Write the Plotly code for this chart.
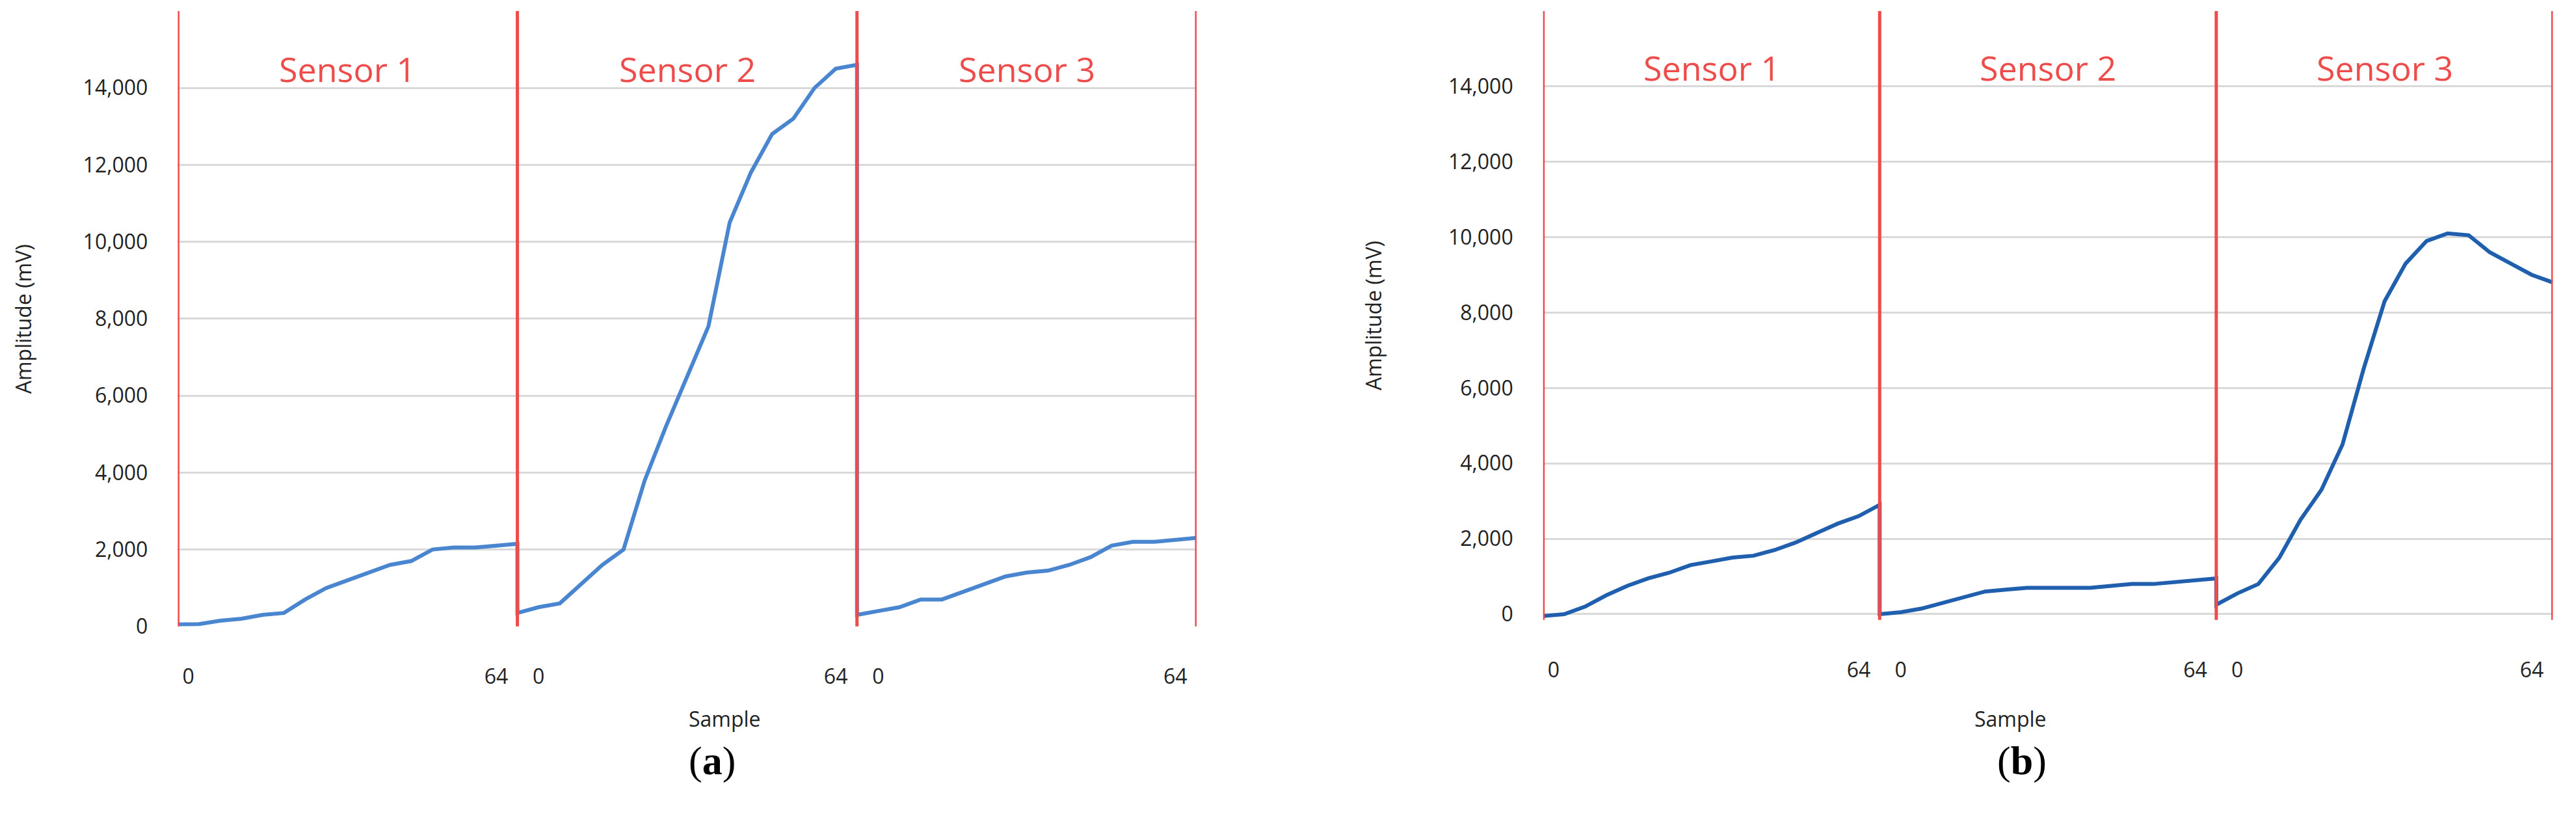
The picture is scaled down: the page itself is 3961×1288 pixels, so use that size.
import plotly.graph_objects as go

# samples read every 4 points (0..64) for each sensor
samples = [0, 4, 8, 12, 16, 20, 24, 28, 32, 36, 40, 44, 48, 52, 56, 60, 64]

a_sensor1 = [50, 60, 150, 200, 300, 350, 700, 1000, 1200, 1400, 1600, 1700, 2000, 2050, 2050, 2100, 2150]
a_sensor2 = [350, 500, 600, 1100, 1600, 2000, 3800, 5200, 6500, 7800, 10500, 11800, 12800, 13200, 14000, 14500, 14600]
a_sensor3 = [300, 400, 500, 700, 700, 900, 1100, 1300, 1400, 1450, 1600, 1800, 2100, 2200, 2200, 2250, 2300]

b_sensor1 = [-50, 0, 200, 500, 750, 950, 1100, 1300, 1400, 1500, 1550, 1700, 1900, 2150, 2400, 2600, 2900]
b_sensor2 = [0, 50, 150, 300, 450, 600, 650, 700, 700, 700, 700, 750, 800, 800, 850, 900, 950]
b_sensor3 = [250, 550, 800, 1500, 2500, 3300, 4500, 6500, 8300, 9300, 9900, 10100, 10050, 9600, 9300, 9000, 8800]

sensor_names = ["Sensor 1", "Sensor 2", "Sensor 3"]
y_ticks = [0, 2000, 4000, 6000, 8000, 10000, 12000, 14000, 16000]

FONT = "Open Sans"
RED = "#EE4B4B"

fig = go.Figure()


def add_panel(fig, series, color, xa, ya, xdom, ydom, ymin, label):
    xs, ys = [], []
    for k, s in enumerate(series):
        xs += [v + 64 * k for v in samples]
        ys += s
    fig.add_trace(go.Scatter(x=xs, y=ys, mode="lines", xaxis=xa, yaxis=ya,
                             line=dict(color=color, width=6), showlegend=False))
    xkey = "xaxis" if xa == "x" else "xaxis" + xa[1:]
    ykey = "yaxis" if ya == "y" else "yaxis" + ya[1:]
    fig.update_layout(**{
        xkey: dict(domain=xdom, range=[0, 192], anchor=ya, showgrid=False, zeroline=False,
                   tickvals=[2, 60, 68, 124, 132, 188],
                   ticktext=["0", "64", "0", "64", "0", "64"], ticks="",
                   ticklabelstandoff=55,
                   tickfont=dict(family=FONT, size=32, color="#222")),
        ykey: dict(domain=ydom, range=[ymin, 16000], anchor=xa, tickvals=y_ticks,
                   tickformat=",", showgrid=True, gridcolor="#D9D9D9", gridwidth=3,
                   zeroline=False, ticklabelstandoff=45,
                   tickfont=dict(family=FONT, size=32, color="#222")),
    })
    for b in [0, 64, 128, 192]:
        fig.add_shape(type="line", xref=xa, yref=ya + " domain", x0=b, x1=b, y0=0, y1=1,
                      line=dict(color=RED, width=5))
    for k, name in enumerate(sensor_names):
        fig.add_annotation(text=name, xref=xa, yref=ya, x=32 + 64 * k, y=14500,
                           showarrow=False, font=dict(family=FONT, size=52, color=RED))
    cx = (xdom[0] + xdom[1]) / 2
    fig.add_annotation(text="Sample", xref="paper", yref="paper", x=cx, y=0.117,
                       showarrow=False, font=dict(family=FONT, size=32, color="#222"))
    fig.add_annotation(text="Amplitude (mV)", xref="paper", yref="paper",
                       x=xdom[0] - 0.066, y=(ydom[0] + ydom[1]) / 2, textangle=-90,
                       showarrow=False, font=dict(family=FONT, size=32, color="#222"))
    fig.add_annotation(text="(<b>" + label + "</b>)", xref="paper", yref="paper", x=cx,
                       y=0.055, showarrow=False,
                       font=dict(family="Liberation Serif", size=62, color="#000"))


add_panel(fig, [a_sensor1, a_sensor2, a_sensor3], "#4A86D0", "x", "y",
          [0.067, 0.4625], [0.247, 0.993], 0, "a")
add_panel(fig, [b_sensor1, b_sensor2, b_sensor3], "#1F5FAD", "x2", "y2",
          [0.597, 0.989], [0.255, 0.993], -150, "b")

fig.update_layout(width=3961, height=1288, margin=dict(l=0, r=0, t=0, b=0),
                  plot_bgcolor="white", paper_bgcolor="white")

fig.write_html("out.html")
